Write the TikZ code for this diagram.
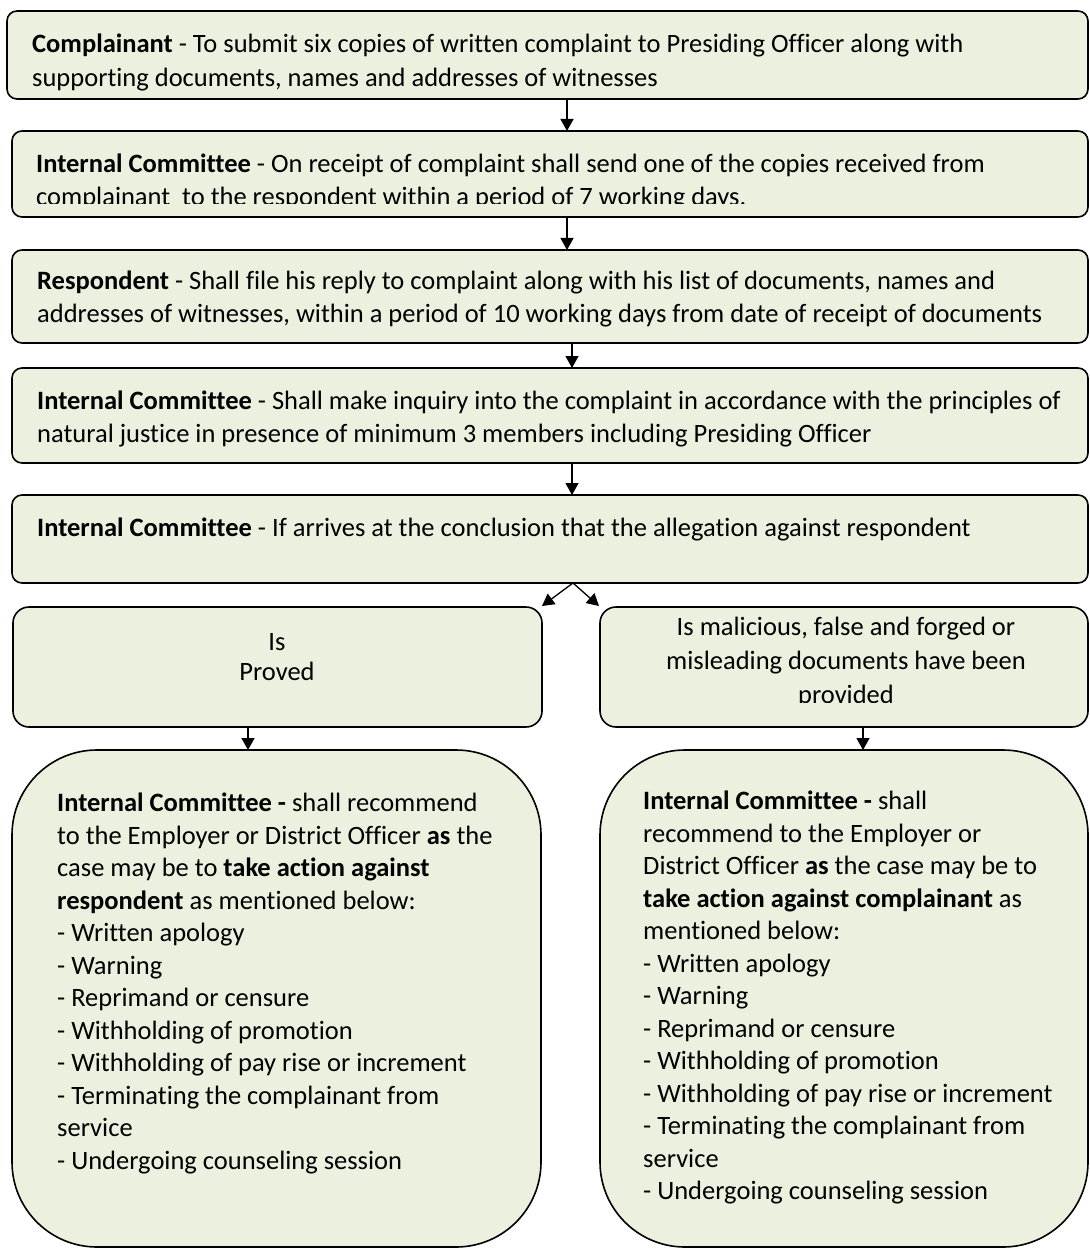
\documentclass[tikz,border=0pt]{standalone}
\usepackage{fontspec}
\setmainfont{Carlito}[Ligatures=TeX, RawFeature={-liga;-clig;-calt;-dlig}]
\usetikzlibrary{arrows.meta}
\definecolor{boxfill}{HTML}{EBF1DE}
\begin{document}
\begin{tikzpicture}[x=1pt,y=-1pt,
  box/.style={draw=black, line width=1.6pt, fill=boxfill, rounded corners=#1,
    anchor=north west, inner sep=0pt, outer sep=0pt},
  txt/.style={align=left, inner sep=0pt, anchor=north west,
    font=\fontsize{26.5}{33}\selectfont},
  ctxt/.style={align=center, inner sep=0pt, anchor=north,
    font=\fontsize{26.5}{34}\selectfont},
  btxt/.style={align=left, inner sep=0pt, anchor=north west,
    font=\fontsize{26.5}{32.5}\selectfont},
  arr/.style={line width=1.3pt, -{Triangle[length=12pt,width=13pt]}}]
\useasboundingbox (0,0) rectangle (1089,1249);
\fill[white] (0,0) rectangle (1089,1249);

% boxes
\node[box=10pt, minimum width=1081pt, minimum height=88pt] (b1) at (7,11) {};
\node[box=10pt, minimum width=1076pt, minimum height=86pt] (b2) at (12,131) {};
\node[box=10pt, minimum width=1076pt, minimum height=93pt] (b3) at (12,250) {};
\node[box=10pt, minimum width=1076pt, minimum height=95pt] (b4) at (12,368) {};
\node[box=10pt, minimum width=1076pt, minimum height=88pt] (b5) at (12,495) {};
\node[box=16pt, minimum width=529pt, minimum height=120pt] (sl) at (13,607) {};
\node[box=16pt, minimum width=488pt, minimum height=120pt] (sr) at (600,607) {};
\node[box=85pt, minimum width=529pt, minimum height=497pt] (bl) at (12,750) {};
\node[box=85pt, minimum width=488pt, minimum height=497pt] (br) at (600,750) {};

% texts
\node[txt, font=\fontsize{26.5}{34}\selectfont] (t1) at (32,29) {\strut\textbf{Complainant} - To submit six copies of written complaint to Presiding Officer along with\\
supporting documents, names and addresses of witnesses};
\begin{scope}
\clip (0,0) rectangle (1089,204);
\node[txt] (t2) at (36,149) {\strut\textbf{Internal Committee} - On receipt of complaint shall send one of the copies received from\\
complainant\ \ to the respondent within a period of 7 working days.};
\end{scope}
\node[txt] (t3) at (37,266) {\strut\textbf{Respondent} - Shall file his reply to complaint along with his list of documents, names and\\
addresses of witnesses, within a period of 10 working days from date of receipt of documents};
\node[txt] (t4) at (37,386) {\strut\textbf{Internal Committee} - Shall make inquiry into the complaint in accordance with the principles of\\
natural justice in presence of minimum 3 members including Presiding Officer};
\node[txt] (t5) at (37,513) {\strut\textbf{Internal Committee} - If arrives at the conclusion that the allegation against respondent};

\node[ctxt, font=\fontsize{26.5}{30}\selectfont] (t6) at (277,629) {\strut Is\\Proved};
\begin{scope}
\clip (600,600) rectangle (1089,702);
\node[ctxt] (t7) at (846,611) {\strut Is malicious, false and forged or\\
misleading documents have been\\
provided};
\end{scope}

\node[btxt] (t8) at (57,789) {\strut\textbf{Internal Committee -} shall recommend\\
to the Employer or District Officer \textbf{as} the\\
case may be to \textbf{take action against}\\
\textbf{respondent} as mentioned below:\\
- Written apology\\
- Warning\\
- Reprimand or censure\\
- Withholding of promotion\\
- Withholding of pay rise or increment\\
- Terminating the complainant from\\
service\\
- Undergoing counseling session};
\node[btxt] (t9) at (643,787) {\strut\textbf{Internal Committee -} shall\\
recommend to the Employer or\\
District Officer \textbf{as} the case may be to\\
\textbf{take action against complainant} as\\
mentioned below:\\
- Written apology\\
- Warning\\
- Reprimand or censure\\
- Withholding of promotion\\
- Withholding of pay rise or increment\\
- Terminating the complainant from\\
service\\
- Undergoing counseling session};

% connectors
\coordinate (ca) at (567,0);
\coordinate (cb) at (572,0);
\draw[arr] (b1.south -| ca) -- (b2.north -| ca);
\draw[arr] (b2.south -| ca) -- (b3.north -| ca);
\draw[arr] (b3.south -| cb) -- (b4.north -| cb);
\draw[arr] (b4.south -| cb) -- (b5.north -| cb);
\coordinate (apex) at (573,0);
\coordinate (lt) at (542,606);
\coordinate (rt) at (599,606);
\draw[arr] (b5.south -| apex) -- (lt);
\draw[arr] (b5.south -| apex) -- (rt);
\coordinate (cl) at (248,0);
\coordinate (cr) at (863,0);
\draw[arr] (sl.south -| cl) -- (bl.north -| cl);
\draw[arr] (sr.south -| cr) -- (br.north -| cr);
\end{tikzpicture}
\end{document}
